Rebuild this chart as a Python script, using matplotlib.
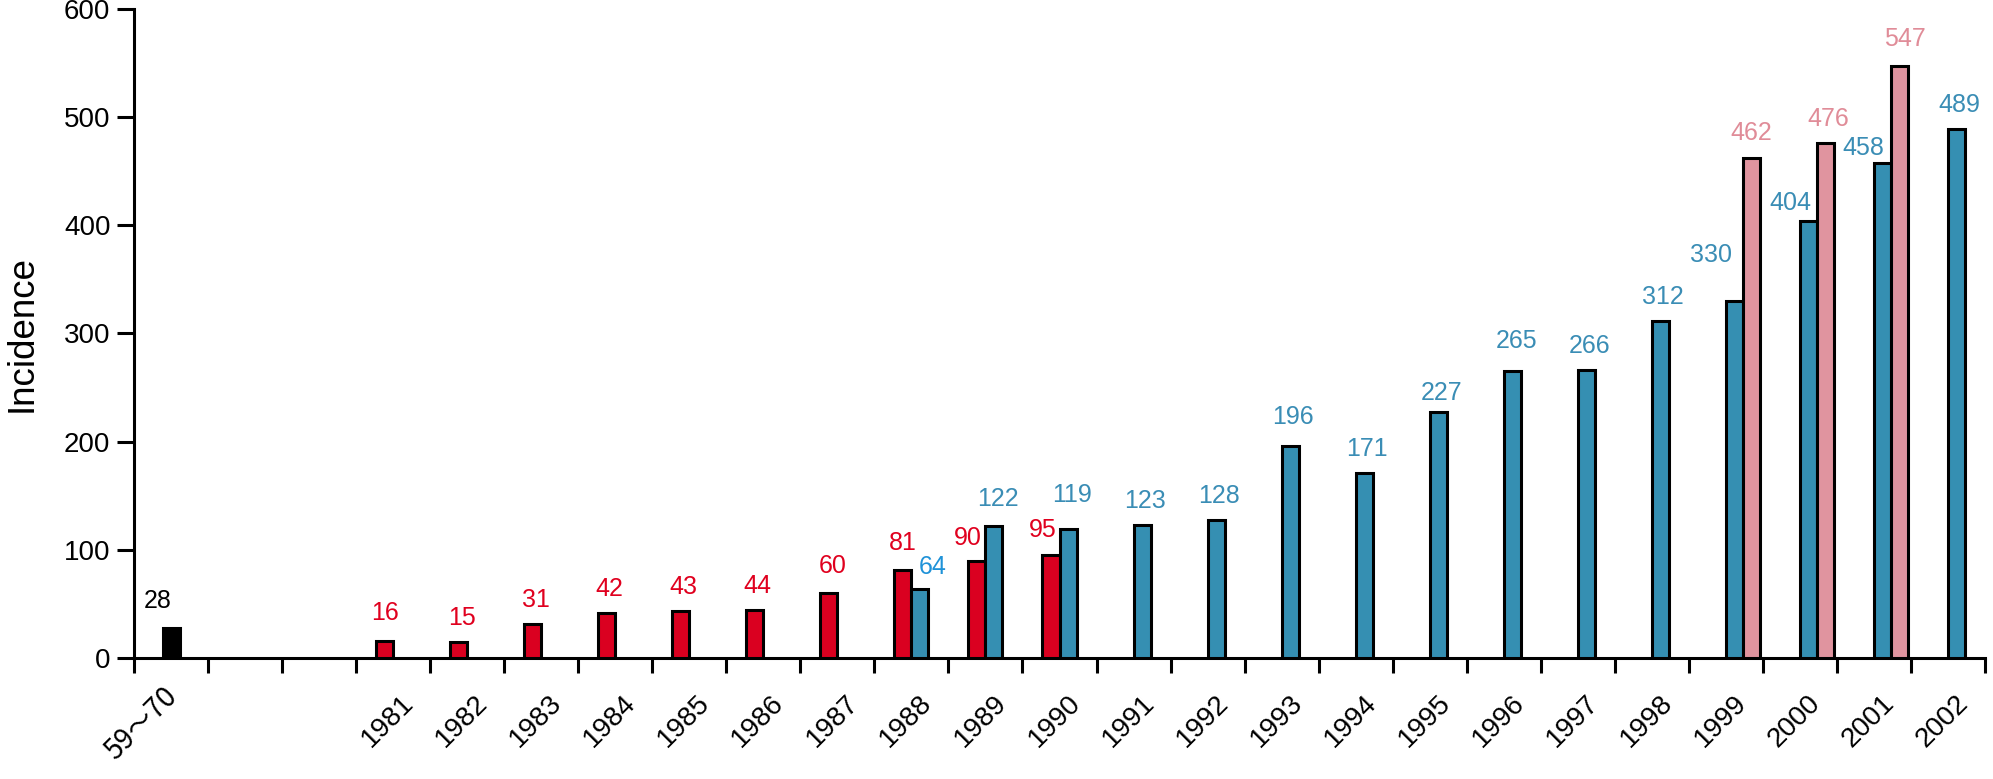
"""
Incidence per year, grouped bars with value labels.
"""
import numpy as np
import matplotlib
matplotlib.use('Agg')
import matplotlib.pyplot as plt
from matplotlib.transforms import ScaledTranslation

plt.rcParams['font.family'] = ['Liberation Sans', 'Noto Sans CJK SC', 'DejaVu Sans']

# categories along the x axis (two empty slots after the first one)
categories = ['59～70', '', ''] + [str(y) for y in range(1981, 2003)]

# series
black_years = ['59～70']
black_vals = [28]

red_years = [str(y) for y in range(1981, 1991)]
red_vals = [16, 15, 31, 42, 43, 44, 60, 81, 90, 95]

blue_years = [str(y) for y in range(1988, 2003)]
blue_vals = [64, 122, 119, 123, 128, 196, 171, 227, 265, 266, 312, 330, 404, 458, 489]

pink_years = ['1999', '2000', '2001']
pink_vals = [462, 476, 547]

# colours
c_black = 'black'
c_red = '#da0020'
c_blue = '#358fb2'
c_pink = '#e0949f'
c_red_txt = '#e0001e'
c_blue_txt = '#3a8db5'
c_pink_txt = '#e08c98'

# label nudges in pixels (dx, dy above bar top), default used otherwise
px = 0.72
default_nudge = (3, 17)
nudges = {
    ('black', '59～70'): (-13, 20),
    ('red', '1981'): (0, 21), ('red', '1987'): (4, 20),
    ('red', '1988'): (0, 20), ('red', '1989'): (-9, 16), ('red', '1990'): (-8, 18),
    ('blue', '1988'): (13, 15), ('blue', '1989'): (4, 20), ('blue', '1990'): (4, 27),
    ('blue', '1993'): (3, 22), ('blue', '1995'): (3, 12), ('blue', '1996'): (4, 23),
    ('blue', '1999'): (-23, 39), ('blue', '2000'): (-18, 11), ('blue', '2001'): (-19, 8),
    ('pink', '1999'): (0, 18), ('pink', '2001'): (5, 20),
}

fig = plt.figure(figsize=(19.93, 7.79), dpi=100)
ax = fig.add_axes([134 / 1993, 1 - 658 / 779, (1985 - 134) / 1993, (658 - 9) / 779])

pos = {c: i for i, c in enumerate(categories)}
w = 0.23
lw = 2.2

def draw(years, vals, offset, face, txtcol, key):
    x = np.array([pos[y] for y in years]) + offset
    ax.bar(x, vals, width=w, color=face, edgecolor='black', linewidth=lw, zorder=3)
    for xi, yr, v in zip(x, years, vals):
        dx, dy = nudges.get((key, yr), default_nudge)
        ax.annotate(str(v), (xi, v), xytext=(dx * px, dy * px), textcoords='offset points',
                    ha='center', va='baseline', fontsize=18, color=txtcol)

draw(black_years, black_vals, 0.0, c_black, 'black', 'black')
draw(red_years, red_vals, -w / 2, c_red, c_red_txt, 'red')
draw(blue_years, blue_vals, w / 2, c_blue, c_blue_txt, 'blue')
draw(pink_years, pink_vals, 1.5 * w, c_pink, c_pink_txt, 'pink')

# the lone 64 label is a lighter blue
for t in ax.texts:
    if t.get_text() == '64':
        t.set_color('#1f92d8')

# axes format
ax.set_xlim(-0.5, len(categories) - 0.5)
ax.set_ylim(0, 600)
ax.spines['top'].set_visible(False)
ax.spines['right'].set_visible(False)
ax.spines['left'].set_linewidth(lw)
ax.spines['bottom'].set_linewidth(lw)

ax.set_yticks(np.arange(0, 601, 100))
ax.tick_params(axis='y', length=12, width=lw, labelsize=20, pad=5)

ax.set_xticks(np.arange(len(categories)))
ax.set_xticks(np.arange(-0.5, len(categories)), minor=True)
ax.tick_params(axis='x', which='major', length=0, labelsize=20, pad=23)
ax.tick_params(axis='x', which='minor', length=11, width=lw)
ax.set_xticklabels(categories, rotation=45, ha='right', va='top')
for i, lab in enumerate(ax.get_xticklabels()):
    if i == 0:
        # wide tilde comes from the CJK font
        lab.set_fontfamily(['Noto Sans CJK SC', 'Liberation Sans'])
        shift = ScaledTranslation(12 / 100, 8 / 100, fig.dpi_scale_trans)
    else:
        shift = ScaledTranslation(26 / 100, 0, fig.dpi_scale_trans)
    lab.set_transform(lab.get_transform() + shift)

ax.set_ylabel('Incidence', fontsize=26.5)
ax.yaxis.set_label_coords(-0.0508, 0.5)

fig.savefig('out.png', dpi=100)
